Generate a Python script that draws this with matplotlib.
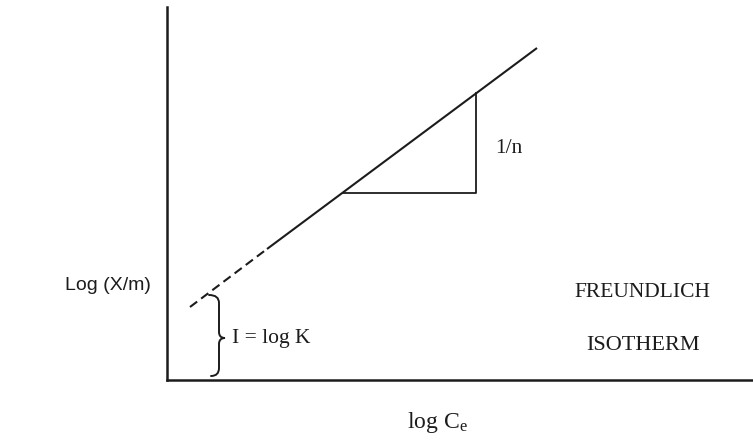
import matplotlib
matplotlib.use("Agg")
import matplotlib.pyplot as plt
from matplotlib.path import Path
from matplotlib.patches import PathPatch

plt.rcParams['font.family'] = ['Liberation Serif', 'DejaVu Serif']
plt.rcParams['mathtext.default'] = 'regular'

# isotherm line (log Ce vs log X/m), arbitrary units
dash_x = [0.23, 1.00]
dash_y = [0.73, 1.31]
solid_x = [1.00, 3.70]
solid_y = [1.31, 3.32]

# slope triangle
tri_x = [1.76, 3.09, 3.09]
tri_y = [1.87, 1.87, 2.87]

# intercept brace (bottom, middle, top)
brace_y = [0.04, 0.42, 0.85]

ink = '#1c1c1c'

fig = plt.figure(figsize=(7.53, 4.40), dpi=100)
ax = fig.add_axes([167 / 753, 60 / 440, 586 / 753, 373 / 440])
ax.set_xlim(0, 5.86)
ax.set_ylim(0, 3.73)
for s in ['top', 'right']:
    ax.spines[s].set_visible(False)
for s in ['left', 'bottom']:
    ax.spines[s].set_linewidth(1.8)
    ax.spines[s].set_color(ink)
ax.set_xticks([])
ax.set_yticks([])

ax.plot(dash_x, dash_y, color=ink, lw=1.5, linestyle=(0, (4.3, 2.4)),
        solid_capstyle='butt')
ax.plot(solid_x, solid_y, color=ink, lw=1.5, solid_capstyle='butt')
ax.plot(tri_x, tri_y, color=ink, lw=1.3)

# curly brace
b0, bm, b1 = brace_y
tip, stem, point = 0.42, 0.52, 0.58
verts = [
    (tip, b1),
    (stem, b1), (stem, b1 - 0.08),
    (stem, bm + 0.06),
    (stem, bm), (point, bm),
    (stem, bm), (stem, bm - 0.06),
    (stem, b0 + 0.08),
    (stem, b0), (tip + 0.02, b0),
]
codes = [Path.MOVETO,
         Path.CURVE3, Path.CURVE3,
         Path.LINETO,
         Path.CURVE3, Path.CURVE3,
         Path.CURVE3, Path.CURVE3,
         Path.LINETO,
         Path.CURVE3, Path.CURVE3]
ax.add_patch(PathPatch(Path(verts, codes), fill=False, ec=ink, lw=1.4,
                       capstyle='round', clip_on=False))

ax.text(0.65, bm, 'I = log K', fontsize=15.5, color=ink, va='center', ha='left')
ax.text(3.28, 2.32, '1/n', fontsize=15.5, color=ink, va='center', ha='left')
ax.text(4.75, 0.88, 'FREUNDLICH', fontsize=15.5, color=ink, va='center', ha='center')
ax.text(4.76, 0.35, 'ISOTHERM', fontsize=16, color=ink, va='center', ha='center')

ax.text(2.70, -0.42, 'log C$_{e}$', fontsize=17, color=ink, va='center',
        ha='center', clip_on=False)
fig.text(65 / 753, 1 - 285 / 440, 'Log (X/m)', fontsize=14, color=ink,
         family=['Liberation Sans', 'DejaVu Sans'], va='center', ha='left')

fig.savefig('out.png', dpi=100, facecolor='white')
